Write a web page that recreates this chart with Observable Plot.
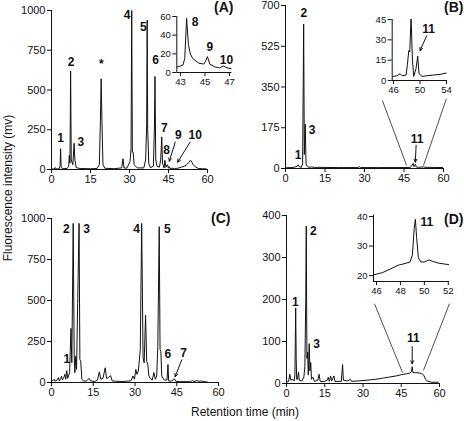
<!DOCTYPE html>
<html>
<head>
<meta charset="utf-8">
<script src="https://cdn.jsdelivr.net/npm/d3@7"></script>
<script src="https://cdn.jsdelivr.net/npm/@observablehq/plot@0.6"></script>
<style>
  body { margin: 0; background: #fff; }
  #fig { position: relative; width: 464px; height: 421px; font-family: "Liberation Sans", Arial, Helvetica, sans-serif; color: #111; }
  #fig svg { position: absolute; }
  .ttl { position: absolute; font-size: 12px; white-space: nowrap; color: #111; }
</style>
</head>
<body>
<div id="fig"></div>
<script>
// ---------------- data ----------------
const timeTicks = [0, 15, 30, 45, 60];
const ticksA = [0, 250, 500, 750, 1000];
const ticksB = [0, 175, 350, 525, 700];
const ticksC = [0, 250, 500, 750, 1000];
const ticksD = [0, 100, 200, 300, 400];

// chromatogram traces: [retention time (min), fluorescence (mV)]
const traceA = [[0,3],[1,3],[1.5,12],[1.8,3],[3.0,4],[3.3,25],[3.5,130],[3.7,20],[4.2,5],[6.0,6],[6.6,20],[6.85,90],[7.1,40],[7.35,620],[7.6,60],[8.2,30],[8.7,165],[9.0,60],[9.5,12],[11,6],[15,5],[17.5,6],[18.4,30],[18.8,300],[19.1,570],[19.4,300],[19.8,30],[20.5,8],[24,5],[27.0,10],[27.5,68],[27.9,10],[29,8],[30.2,50],[30.6,130],[30.85,1000],[31.1,110],[31.4,110],[31.8,30],[33,10],[35.5,10],[36.2,60],[36.6,280],[36.8,940],[37.0,250],[37.4,40],[38,12],[39.2,20],[39.6,280],[39.8,585],[40.1,60],[40.6,20],[41.5,15],[42.0,60],[42.4,205],[42.7,40],[43.3,10],[43.6,58],[44.0,14],[44.6,30],[45.0,8],[45.3,18],[45.6,6],[46.5,8],[47.3,5],[48,6],[49,10],[50,15],[51,20],[52,30],[52.8,45],[53.5,58],[54,45],[54.5,30],[55.5,15],[56.5,6],[58,5],[59.5,4]];
const insetA = [[42.75,6],[43.0,7],[43.2,8],[43.35,15],[43.5,58],[43.65,30],[43.8,20],[44.0,15],[44.5,10],[44.9,9],[45.05,12],[45.2,17],[45.4,9],[45.8,6],[46.2,5],[46.5,7],[46.8,5],[47.2,4]];

const traceB = [[0,3],[2,4],[3.5,6],[4.5,10],[4.8,16],[5.2,8],[6.0,5],[6.5,20],[6.9,620],[7.15,60],[7.5,190],[7.8,20],[8.3,8],[9,5],[10,7],[11,4],[12,5],[20,4],[27.5,4],[28,8],[28.5,4],[35,4],[45,4],[47.5,5],[48.1,15],[48.5,22],[48.8,8],[49.3,18],[49.7,6],[50.5,5],[52.5,7],[53,5],[60,4]];
const insetB = [[45.9,3],[46.5,3.5],[47.0,5],[47.3,3.5],[47.9,4],[48.1,12],[48.3,22],[48.45,21],[48.65,47],[48.85,15],[49.05,3],[49.4,9],[49.65,18],[49.85,5],[50.3,3],[51,3.5],[52,4],[53,4.5],[54,5.5]];

const traceC = [[0,8],[0.5,12],[1.0,20],[1.3,8],[2.0,15],[2.5,30],[2.8,10],[3.3,25],[3.6,38],[3.9,15],[4.4,30],[4.8,50],[5.1,20],[5.5,72],[5.8,25],[6.5,60],[7.0,330],[7.3,120],[7.8,970],[8.15,170],[8.4,60],[8.7,160],[9.0,80],[9.4,480],[9.9,970],[10.2,140],[10.5,130],[10.9,20],[11.5,10],[12.5,8],[13.5,25],[14,10],[15.5,6],[16.5,15],[17.2,65],[17.7,20],[18.5,25],[19.3,90],[19.8,25],[20.5,30],[21.2,42],[21.8,10],[23,8],[25,6],[27,8],[28.5,10],[29.3,40],[29.8,20],[30.3,80],[30.7,50],[31.2,70],[31.9,200],[32.4,970],[32.9,150],[33.3,120],[33.8,410],[34.2,130],[34.6,110],[35.0,40],[35.5,25],[36.2,15],[36.8,60],[37.3,20],[37.8,40],[38.2,220],[38.7,950],[39.0,200],[39.3,190],[39.6,40],[40.5,15],[41.5,15],[41.85,110],[42.1,10],[43,8],[44.2,22],[44.6,8],[46,5],[50,5],[50.6,12],[51.2,6],[52.4,12],[53,7],[53.8,10],[54.5,6],[55.5,4],[56,3]];

const traceD = [[0,3],[0.8,5],[1.3,22],[1.7,8],[2.5,10],[3.0,6],[3.3,20],[3.6,180],[3.8,60],[4.0,10],[4.3,10],[4.7,27],[5.0,8],[6.0,6],[6.8,15],[7.2,40],[7.55,200],[7.75,375],[8.0,60],[8.3,75],[8.55,20],[8.9,95],[9.2,30],[9.5,50],[9.8,10],[10.3,15],[11,5],[12.3,8],[12.8,22],[13.2,5],[15,5],[16.0,8],[16.4,15],[16.8,5],[17.3,18],[17.7,6],[18.6,18],[19.0,5],[21.5,5],[22.0,45],[22.3,8],[24,6],[25,10],[25.5,5],[30,7],[35,10],[38,13],[40,15],[43,18],[45,21],[47,23],[48.5,25],[49.0,28],[49.3,40],[49.6,26],[50.5,26],[52,25],[53,24],[53.8,20],[54.5,10],[55.5,5],[57,3],[59.5,3]];
const insetD = [[45.8,20.3],[46.5,21],[47.2,22.3],[47.8,23.5],[48.3,24],[48.8,24.6],[49.0,27],[49.15,36],[49.25,39],[49.35,33],[49.5,26],[49.7,24.6],[50.0,24.6],[50.4,25.3],[50.7,24.8],[51.2,24.2],[51.7,23.9],[52.05,23.7]];

// peak labels: [text, time, mV]
const labelsA = [["1",3.5,200],["2",7.5,675],["3",11.3,172],["*",19.2,665],["4",29.1,969],["5",35.3,895],["6",40.0,686],["7",43.4,258],["8",44.3,120],["9",48.8,214],["10",55.3,214]];
const arrowsA = [[47.6,172,45.3,52],[53.3,172,48.5,46]];
const labelsInsetA = [["8",44.2,54],["9",45.4,27],["10",46.75,13.6]];

const labelsB = [["1",4.8,56],["2",7.0,665],["3",10.1,163],["11",50.0,127]];
const arrowsB = [[49.6,100,49.3,27]];
const guidesB = [[46,13,36.8,292],[52.4,13,61.1,300]];
const labelsInsetB = [["11",51.3,38]];
const arrowsInsetB = [[51.0,33,50.0,22]];

const labelsC = [["1",5.5,144],["2",5.3,937],["3",12.6,937],["4",30.6,937],["5",41.6,937],["6",41.8,171],["7",47.5,179]];
const arrowsC = [[46.8,138,44.4,35]];

const labelsD = [["1",3.5,193],["2",10.5,362],["3",11.8,94],["11",49.7,108]];
const arrowsD = [[49.3,88,49.3,47]];
const guidesD = [[45.5,26,34.5,190],[53.7,31,63.9,190]];
const labelsInsetD = [["11",50.2,38]];

// ---------------- drawing ----------------
const FONT = '"Liberation Sans", Arial, Helvetica, sans-serif';
const fig = document.getElementById("fig");
const toPts = (arr) => arr.map(([t, v]) => ({t, v}));
const toLab = (arr) => arr.map(([s, x, y]) => ({s, x, y}));
const toSeg = (arr) => arr.map(([x1, y1, x2, y2]) => ({x1, y1, x2, y2}));

function panel(c) {
  const marks = [
    Plot.ruleY([c.yd[0]], {stroke: "#111", strokeWidth: 1}),
    Plot.ruleX([c.xd[0]], {stroke: "#111", strokeWidth: 1}),
    Plot.line(toPts(c.trace), {x: "t", y: "v", stroke: "#111", strokeWidth: 1, clip: true}),
    Plot.text(toLab(c.labels || []), {x: "x", y: "y", text: "s", fontWeight: "bold", fontSize: 12, fill: "#111"}),
    Plot.arrow(toSeg(c.arrows || []), {x1: "x1", y1: "y1", x2: "x2", y2: "y2", stroke: "#111", strokeWidth: 1, headLength: 5, headAngle: 50}),
    Plot.link(toSeg(c.guides || []), {x1: "x1", y1: "y1", x2: "x2", y2: "y2", stroke: "#222", strokeWidth: 0.8})
  ];
  if (c.tag) marks.push(Plot.text([c.tag], {frameAnchor: "top-right", textAnchor: "end", lineAnchor: "middle", dx: c.tagDx, dy: c.tagDy, fontWeight: "bold", fontSize: 14, fill: "#111"}));
  const svg = Plot.plot({
    width: c.w, height: c.h,
    marginLeft: c.ml, marginRight: c.mr, marginTop: c.mt, marginBottom: c.mb,
    style: `background:transparent;overflow:visible;font-family:${FONT};font-size:${c.fs}px;color:#111;`,
    x: {domain: c.xd, ticks: c.xt, tickSize: 4, tickPadding: 2, tickFormat: d => String(d), label: null},
    y: {domain: c.yd, ticks: c.yt, tickSize: 4, tickPadding: 2, tickFormat: d => String(d), label: null},
    marks
  });
  svg.style.left = c.left + "px";
  svg.style.top = c.top + "px";
  fig.appendChild(svg);
}

// main panels
panel({left: 0, top: 0, w: 232, h: 200, ml: 51, mr: 25, mt: 10, mb: 31, fs: 11,
  xd: [0, 60], yd: [0, 1000], xt: timeTicks, yt: ticksA, trace: traceA,
  labels: labelsA, arrows: arrowsA, tag: "(A)", tagDx: 26, tagDy: -2.7});
panel({left: 232, top: 0, w: 232, h: 200, ml: 53, mr: 21, mt: 5, mb: 32, fs: 11,
  xd: [0, 60], yd: [0, 700], xt: timeTicks, yt: ticksB, trace: traceB,
  labels: labelsB, arrows: arrowsB, guides: guidesB, tag: "(B)", tagDx: 20, tagDy: 2.3});
panel({left: 0, top: 200, w: 232, h: 215, ml: 51, mr: 14, mt: 18, mb: 33, fs: 11,
  xd: [0, 60], yd: [0, 1000], xt: timeTicks, yt: ticksC, trace: traceC,
  labels: labelsC, arrows: arrowsC, tag: "(C)", tagDx: 12, tagDy: 0.3});
panel({left: 232, top: 200, w: 232, h: 215, ml: 54, mr: 25, mt: 15, mb: 32, fs: 11,
  xd: [0, 60], yd: [0, 400], xt: timeTicks, yt: ticksD, trace: traceD,
  labels: labelsD, arrows: arrowsD, guides: guidesD, tag: "(D)", tagDx: 24, tagDy: 4});

// insets
panel({left: 150, top: 0, w: 90, h: 95, ml: 26.3, mr: 8.6, mt: 16, mb: 23, fs: 9.5,
  xd: [42.7, 47.2], yd: [0, 60], xt: [43, 45, 47], yt: [0, 20, 40, 60], trace: insetA,
  labels: labelsInsetA});
panel({left: 360, top: 0, w: 100, h: 100, ml: 31.7, mr: 13.3, mt: 19, mb: 20, fs: 9.5,
  xd: [45.8, 54.1], yd: [0, 45], xt: [46, 50, 54], yt: [0, 15, 30, 45], trace: insetB,
  labels: labelsInsetB, arrows: arrowsInsetB});
panel({left: 350, top: 200, w: 110, h: 100, ml: 23, mr: 11, mt: 14.5, mb: 19, fs: 9.5,
  xd: [45.75, 52.1], yd: [18, 40.5], xt: [46, 48, 50, 52], yt: [20, 30, 40], trace: insetD,
  labels: labelsInsetD});

// shared axis titles
const yt = document.createElement("div");
yt.className = "ttl";
yt.textContent = "Fluorescence intensity (mv)";
yt.style.left = "0px"; yt.style.top = "0px";
fig.appendChild(yt);
const w = yt.offsetWidth, hgt = yt.offsetHeight;
yt.style.left = (8 - w / 2) + "px";
yt.style.top = (188 - hgt / 2) + "px";
yt.style.transform = "rotate(-90deg)";

const xt = document.createElement("div");
xt.className = "ttl";
xt.textContent = "Retention time (min)";
fig.appendChild(xt);
xt.style.left = (245 - xt.offsetWidth / 2) + "px";
xt.style.top = (412 - xt.offsetHeight / 2) + "px";
</script>
</body>
</html>
